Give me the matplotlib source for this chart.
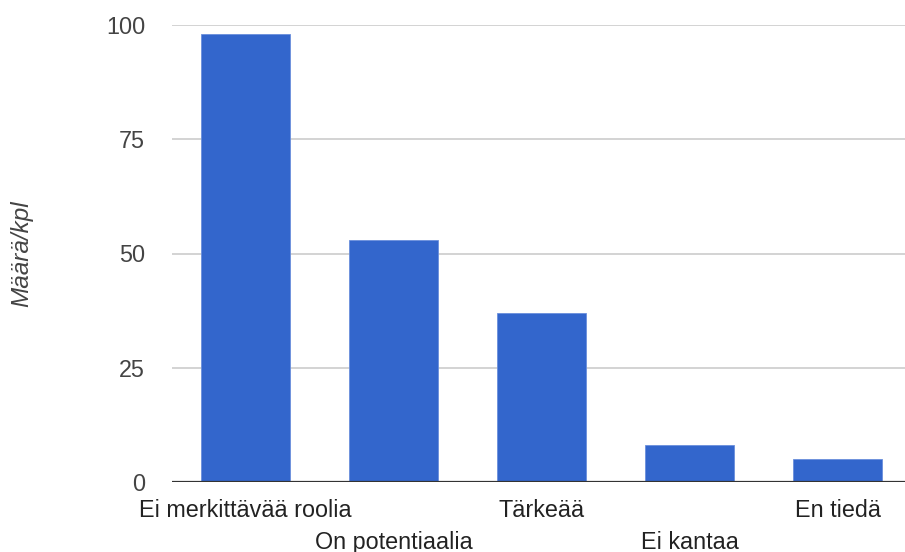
import matplotlib.pyplot as plt

# data
categories = ["Ei merkittävää roolia", "On potentiaalia", "Tärkeää", "Ei kantaa", "En tiedä"]
counts = [98, 53, 37, 8, 5]
y_ticks = [0, 25, 50, 75, 100]

BAR = "#3366cc"
TXT = "#444444"

plt.rcParams["font.family"] = ["Liberation Sans", "DejaVu Sans"]

fig = plt.figure(figsize=(9.05, 5.52), dpi=100)
# axes run slightly past the right edge like the original
ax = fig.add_axes([171.5 / 905, 70 / 552, 740 / 905, 457 / 552])

x = list(range(len(categories)))
ax.bar(x, counts, width=0.608, color=BAR, edgecolor="#6a8fdc", linewidth=0.6, zorder=3)

ax.set_xlim(-0.5, 4.5)
ax.set_ylim(0, 100)
ax.set_yticks(y_ticks)
ax.set_yticklabels([str(v) for v in y_ticks])
ax.grid(axis="y", color="#cccccc", lw=1.2, zorder=0)
ax.axhline(0, color="#333333", lw=1.6, zorder=4)

for s in ax.spines.values():
    s.set_visible(False)

ax.tick_params(axis="y", length=0, pad=19, labelsize=16.8, labelcolor=TXT)
ax.tick_params(axis="x", length=0, labelsize=16.8, labelcolor="#222222")
ax.set_xticks(x)
ax.set_xticklabels(categories)
# staggered category labels
for i, t in enumerate(ax.xaxis.get_major_ticks()):
    t.set_pad(12.5 if i % 2 == 0 else 35)

ax.set_ylabel("Määrä/kpl", fontsize=17.5, style="italic", color=TXT, labelpad=0)
ax.yaxis.set_label_coords((33 - 171.5) / 740, 0.5)

fig.savefig("out.png", dpi=100)
